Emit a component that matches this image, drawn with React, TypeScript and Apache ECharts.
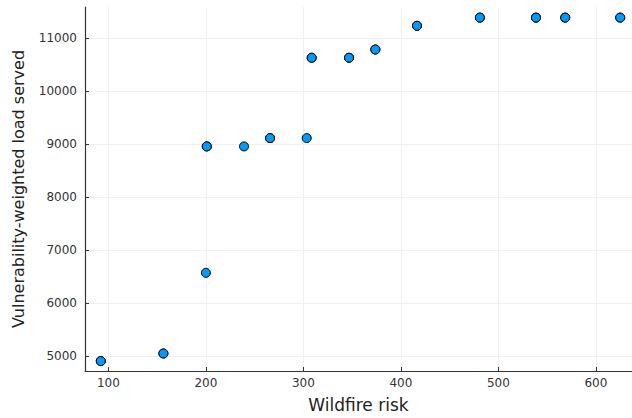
import React, { useEffect, useRef } from "react";
import * as echarts from "echarts";

const wildfireRisk = [92.2, 92.2, 156.4, 156.4, 200.9, 200.9, 200.0, 239.1, 265.8, 265.8, 303.4, 308.5, 308.5, 346.8, 346.8, 373.8, 373.8, 416.5, 416.5, 481.0, 481.0, 538.5, 538.5, 568.5, 568.5, 624.9, 624.9];
const loadServed = [4907, 4907, 5050, 5050, 8955, 8955, 6571, 8955, 9112, 9112, 9112, 10627, 10627, 10627, 10627, 10782, 10782, 11229, 11229, 11384, 11384, 11384, 11384, 11384, 11384, 11384, 11384];
const xTicks = [100, 200, 300, 400, 500, 600];
const yTicks = [5000, 6000, 7000, 8000, 9000, 10000, 11000];

export default function App() {
  const ref = useRef<HTMLDivElement>(null);
  useEffect(() => {
    if (!ref.current) return;
    const chart = echarts.init(ref.current, null, { renderer: "svg" });
    const font = "DejaVu Sans";
    const axisCommon = {
      type: "value" as const,
      nameLocation: "middle" as const,
      axisLine: { show: true, lineStyle: { color: "#333", width: 1.2 } },
      axisTick: { show: true, inside: true, length: 4, lineStyle: { color: "#333", width: 1 } },
      splitLine: { show: true, lineStyle: { color: "#f0f0f0", width: 1 } },
    };
    const fmt = (v: number) => String(v);
    chart.setOption({
      animation: false,
      backgroundColor: "#ffffff",
      grid: { left: 85, top: 7, width: 552, height: 368, containLabel: false },
      xAxis: {
        ...axisCommon,
        name: "Wildfire risk",
        nameGap: 25,
        nameTextStyle: { fontFamily: font, fontSize: 17, color: "#222" },
        min: 76,
        max: 637,
        axisTick: { ...axisCommon.axisTick, customValues: xTicks },
        axisLabel: { customValues: xTicks, formatter: fmt, fontFamily: font, fontSize: 12, color: "#333", margin: 6 },
      },
      yAxis: {
        ...axisCommon,
        name: "Vulnerability-weighted load served",
        nameGap: 59,
        nameTextStyle: { fontFamily: font, fontSize: 16, color: "#222" },
        min: 4720,
        max: 11584,
        axisTick: { ...axisCommon.axisTick, customValues: yTicks },
        axisLabel: { customValues: yTicks, formatter: fmt, fontFamily: font, fontSize: 12, color: "#333", margin: 8 },
      },
      series: [
        {
          type: "scatter",
          data: wildfireRisk.map((x, i) => [x, loadServed[i]]),
          symbol: "circle",
          symbolSize: 9,
          itemStyle: { color: "#009AFA", borderColor: "#000", borderWidth: 1, opacity: 1 },
        },
      ],
    });
    return () => chart.dispose();
  }, []);
  return (
    <div
      ref={ref}
      style={{ position: "absolute", left: 0, top: 0, width: 632, height: 418 }}
    />
  );
}
